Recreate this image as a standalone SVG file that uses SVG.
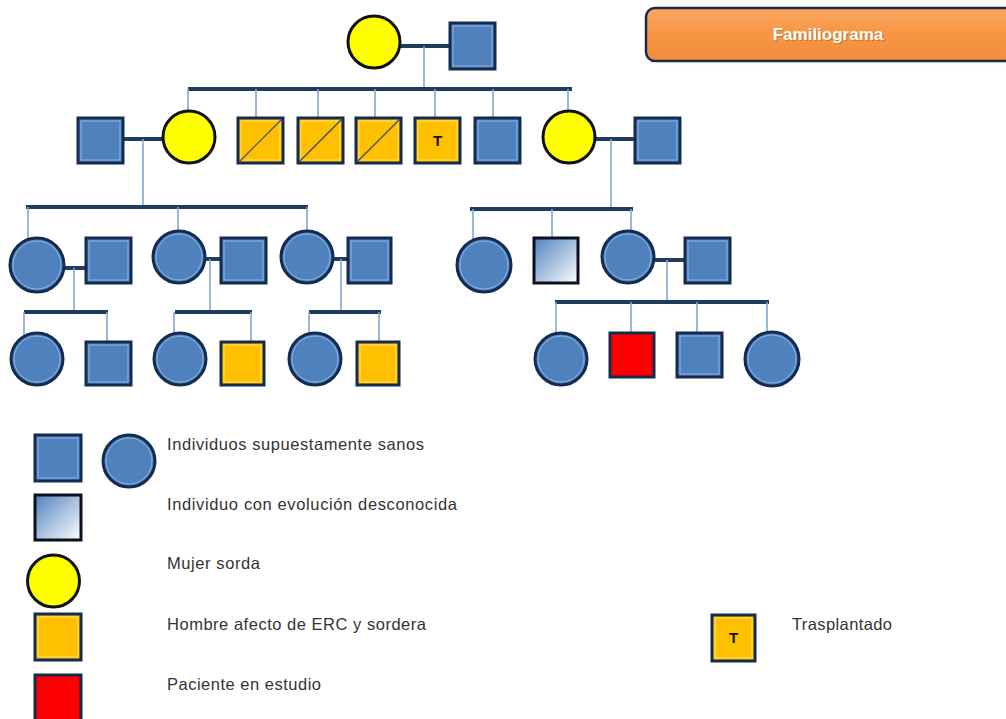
<svg xmlns="http://www.w3.org/2000/svg" width="1006" height="719" viewBox="0 0 1006 719">
<defs>
<linearGradient id="unk" x1="0" y1="0" x2="1" y2="1">
<stop offset="0" stop-color="#4F81BD"/><stop offset="1" stop-color="#FFFFFF"/>
</linearGradient>
<linearGradient id="ttl" x1="0" y1="0" x2="0" y2="1">
<stop offset="0" stop-color="#F9A863"/><stop offset="0.45" stop-color="#F79646"/><stop offset="1" stop-color="#F38D3A"/>
</linearGradient>
</defs>
<style>
.sq{fill:#4F81BD;stroke:#142B50;stroke-width:3}
.ci{fill:#4F81BD;stroke:#142B50;stroke-width:3}
.in{fill:none;stroke:#8DB4E2;stroke-width:1}
.ye{fill:#FFFF00;stroke:#111111;stroke-width:3}
.or{fill:#FFC000;stroke:#142B50;stroke-width:3}
.oi{fill:none;stroke:#FFE060;stroke-width:1}
.rd{fill:#FF0000;stroke:#142B50;stroke-width:3}
.un{fill:url(#unk);stroke:#0A1020;stroke-width:3}
.dg{stroke:#3A4A60;stroke-width:1.2}
.thick{stroke:#1F3B5E;stroke-width:4;fill:none}
.thin{stroke:#7FA7D9;stroke-width:1.6;fill:none}
.lbl{font-family:"Liberation Sans",Arial,sans-serif;font-size:16.5px;fill:#333333}
.t{font-family:"Liberation Sans",Arial,sans-serif;font-size:15px;font-weight:bold;fill:#111111;text-anchor:middle}
</style>
<rect width="1006" height="719" fill="#FFFFFF"/>

<g id="connectors">
<line class="thick" x1="400" y1="46" x2="450" y2="46"/>
<line class="thin" x1="424" y1="46" x2="424" y2="89"/>
<line class="thick" x1="188" y1="89" x2="572" y2="89"/>
<line class="thin" x1="188" y1="89" x2="188" y2="111"/>
<line class="thin" x1="256" y1="89" x2="256" y2="118"/>
<line class="thin" x1="318" y1="89" x2="318" y2="118"/>
<line class="thin" x1="375" y1="89" x2="375" y2="118"/>
<line class="thin" x1="435" y1="89" x2="435" y2="118"/>
<line class="thin" x1="493" y1="89" x2="493" y2="118"/>
<line class="thin" x1="568" y1="89" x2="568" y2="111"/>
<line class="thick" x1="123" y1="139" x2="163" y2="139"/>
<line class="thin" x1="143" y1="139" x2="143" y2="207"/>
<line class="thick" x1="26" y1="207" x2="308" y2="207"/>
<line class="thin" x1="28" y1="207" x2="28" y2="240"/>
<line class="thin" x1="178" y1="207" x2="178" y2="231"/>
<line class="thin" x1="307" y1="207" x2="307" y2="231"/>
<line class="thick" x1="595" y1="139" x2="635" y2="139"/>
<line class="thin" x1="611" y1="139" x2="611" y2="209"/>
<line class="thick" x1="470" y1="209" x2="633" y2="209"/>
<line class="thin" x1="473" y1="209" x2="473" y2="241"/>
<line class="thin" x1="552" y1="209" x2="552" y2="238"/>
<line class="thin" x1="631" y1="209" x2="631" y2="231"/>
<line class="thick" x1="63" y1="268" x2="86" y2="268"/>
<line class="thin" x1="74" y1="268" x2="74" y2="312"/>
<line class="thick" x1="24" y1="312" x2="108" y2="312"/>
<line class="thin" x1="24" y1="312" x2="24" y2="338"/>
<line class="thin" x1="107" y1="312" x2="107" y2="342"/>
<line class="thick" x1="205" y1="259" x2="221" y2="259"/>
<line class="thin" x1="210" y1="259" x2="210" y2="312"/>
<line class="thick" x1="175" y1="312" x2="252" y2="312"/>
<line class="thin" x1="174" y1="312" x2="174" y2="335"/>
<line class="thin" x1="251" y1="312" x2="251" y2="342"/>
<line class="thick" x1="333" y1="259" x2="348" y2="259"/>
<line class="thin" x1="341" y1="259" x2="341" y2="312"/>
<line class="thick" x1="309" y1="312" x2="381" y2="312"/>
<line class="thin" x1="309" y1="312" x2="309" y2="335"/>
<line class="thin" x1="379" y1="312" x2="379" y2="342"/>
<line class="thick" x1="654" y1="260" x2="685" y2="260"/>
<line class="thin" x1="667" y1="260" x2="667" y2="302"/>
<line class="thick" x1="555" y1="302" x2="769" y2="302"/>
<line class="thin" x1="556" y1="302" x2="556" y2="335"/>
<line class="thin" x1="631" y1="302" x2="631" y2="333"/>
<line class="thin" x1="697" y1="302" x2="697" y2="333"/>
<line class="thin" x1="767" y1="302" x2="767" y2="335"/>
</g>

<g id="title">
<rect x="646" y="8" width="372" height="53" rx="9" fill="url(#ttl)" stroke="#1B2A48" stroke-width="2.5"/>
<text x="829" y="41" font-family="'Liberation Sans',Arial,sans-serif" font-size="17" font-weight="bold" fill="#8A5020" fill-opacity="0.45" text-anchor="middle">Familiograma</text>
<text x="828" y="40" font-family="'Liberation Sans',Arial,sans-serif" font-size="17" font-weight="bold" fill="#FFFFFF" text-anchor="middle">Familiograma</text>
</g>

<g id="g1-mother"><circle class="ye" cx="374" cy="42" r="26"/></g>
<g id="g1-father"><rect class="sq" x="450" y="23" width="45" height="46"/><rect class="in" x="453" y="26" width="39" height="40"/></g>

<g id="g2-husband1"><rect class="sq" x="78" y="118" width="45" height="45"/><rect class="in" x="81" y="121" width="39" height="39"/></g>
<g id="g2-daughter1"><circle class="ye" cx="189" cy="137" r="26"/></g>
<g id="g2-son1"><rect class="or" x="238" y="118" width="45" height="45"/><rect class="oi" x="241" y="121" width="39" height="39"/><line class="dg" x1="239" y1="162" x2="282" y2="119"/></g>
<g id="g2-son2"><rect class="or" x="298" y="118" width="45" height="45"/><rect class="oi" x="301" y="121" width="39" height="39"/><line class="dg" x1="299" y1="162" x2="342" y2="119"/></g>
<g id="g2-son3"><rect class="or" x="356" y="118" width="45" height="45"/><rect class="oi" x="359" y="121" width="39" height="39"/><line class="dg" x1="357" y1="162" x2="400" y2="119"/></g>
<g id="g2-son4"><rect class="or" x="415" y="118" width="45" height="45"/><rect class="oi" x="418" y="121" width="39" height="39"/><text class="t" x="437.5" y="146">T</text></g>
<g id="g2-son5"><rect class="sq" x="475" y="118" width="45" height="45"/><rect class="in" x="478" y="121" width="39" height="39"/></g>
<g id="g2-daughter2"><circle class="ye" cx="569" cy="137" r="26"/></g>
<g id="g2-husband2"><rect class="sq" x="635" y="118" width="45" height="45"/><rect class="in" x="638" y="121" width="39" height="39"/></g>

<g id="g3-f1"><circle class="ci" cx="37" cy="265" r="27"/><circle class="in" cx="37" cy="265" r="24"/></g>
<g id="g3-m1"><rect class="sq" x="86" y="238" width="45" height="45"/><rect class="in" x="89" y="241" width="39" height="39"/></g>
<g id="g3-f2"><circle class="ci" cx="179" cy="257" r="26"/><circle class="in" cx="179" cy="257" r="23"/></g>
<g id="g3-m2"><rect class="sq" x="221" y="238" width="45" height="45"/><rect class="in" x="224" y="241" width="39" height="39"/></g>
<g id="g3-f3"><circle class="ci" cx="307" cy="257" r="26"/><circle class="in" cx="307" cy="257" r="23"/></g>
<g id="g3-m3"><rect class="sq" x="348" y="238" width="43" height="45"/><rect class="in" x="351" y="241" width="37" height="39"/></g>

<g id="g3-f4"><circle class="ci" cx="484" cy="265" r="27"/><circle class="in" cx="484" cy="265" r="24"/></g>
<g id="g3-m4"><rect class="un" x="534" y="238" width="44" height="45"/></g>
<g id="g3-f5"><circle class="ci" cx="628" cy="257" r="26"/><circle class="in" cx="628" cy="257" r="23"/></g>
<g id="g3-m5"><rect class="sq" x="685" y="238" width="45" height="45"/><rect class="in" x="688" y="241" width="39" height="39"/></g>

<g id="g4-a1"><circle class="ci" cx="37" cy="359" r="26"/><circle class="in" cx="37" cy="359" r="23"/></g>
<g id="g4-a2"><rect class="sq" x="86" y="342" width="45" height="43"/><rect class="in" x="89" y="345" width="39" height="37"/></g>
<g id="g4-b1"><circle class="ci" cx="180" cy="359" r="26"/><circle class="in" cx="180" cy="359" r="23"/></g>
<g id="g4-b2"><rect class="or" x="221" y="342" width="43" height="43"/><rect class="oi" x="224" y="345" width="37" height="37"/></g>
<g id="g4-c1"><circle class="ci" cx="315" cy="359" r="26"/><circle class="in" cx="315" cy="359" r="23"/></g>
<g id="g4-c2"><rect class="or" x="357" y="342" width="42" height="43"/><rect class="oi" x="360" y="345" width="36" height="37"/></g>
<g id="g4-d1"><circle class="ci" cx="561" cy="359" r="26"/><circle class="in" cx="561" cy="359" r="23"/></g>
<g id="g4-d2"><rect class="rd" x="610" y="333" width="44" height="44"/></g>
<g id="g4-d3"><rect class="sq" x="677" y="333" width="45" height="44"/><rect class="in" x="680" y="336" width="39" height="38"/></g>
<g id="g4-d4"><circle class="ci" cx="772" cy="359" r="27"/><circle class="in" cx="772" cy="359" r="24"/></g>

<g id="legend-sanos">
<rect class="sq" x="35" y="435" width="46" height="46"/><rect class="in" x="38" y="438" width="40" height="40"/>
<circle class="ci" cx="129" cy="461" r="26"/><circle class="in" cx="129" cy="461" r="23"/>
<text class="lbl" x="167" y="450" textLength="257" lengthAdjust="spacing">Individuos supuestamente sanos</text>
</g>
<g id="legend-desconocida">
<rect class="un" x="35" y="495" width="46" height="45"/>
<text class="lbl" x="167" y="510" textLength="290" lengthAdjust="spacing">Individuo con evolución desconocida</text>
</g>
<g id="legend-sorda">
<circle class="ye" cx="53.5" cy="581" r="26"/>
<text class="lbl" x="167" y="569" textLength="93" lengthAdjust="spacing">Mujer sorda</text>
</g>
<g id="legend-erc">
<rect class="or" x="35" y="614" width="46" height="46"/><rect class="oi" x="38" y="617" width="40" height="40"/>
<text class="lbl" x="167" y="630" textLength="259" lengthAdjust="spacing">Hombre afecto de ERC  y sordera</text>
</g>
<g id="legend-estudio">
<rect class="rd" x="35" y="675" width="46" height="48"/>
<text class="lbl" x="167" y="690" textLength="154" lengthAdjust="spacing">Paciente en estudio</text>
</g>
<g id="legend-trasplantado">
<rect class="or" x="712" y="615" width="43" height="46"/><rect class="oi" x="715" y="618" width="37" height="40"/>
<text class="t" x="733.5" y="643">T</text>
<text class="lbl" x="792" y="630" textLength="100" lengthAdjust="spacing">Trasplantado</text>
</g>
</svg>
